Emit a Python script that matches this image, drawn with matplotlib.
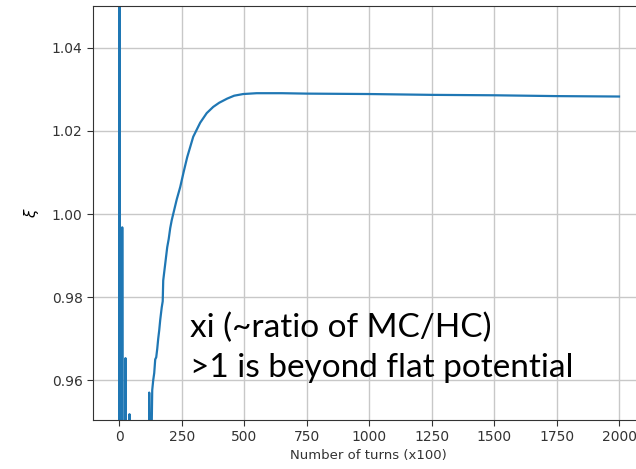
import matplotlib
matplotlib.use("Agg")
import matplotlib.pyplot as plt

plt.rcParams["font.family"] = "DejaVu Sans"

# turns (x100) and xi values
turns = [0, 1, 2, 3, 4, 11, 12, 14, 24, 25, 27, 29, 40, 41, 43, 60, 118, 120, 122, 127,
         129, 132, 136, 140, 144, 148, 152, 156, 160, 164, 170, 174, 176, 184, 192,
         198, 204, 210, 216, 230, 244, 258, 272, 296, 324, 350, 376, 400, 432, 460,
         496, 550, 650, 750, 1000, 1250, 1500, 1750, 2000]
xi = [1.30, 0.70, 1.20, 0.80, 0.90, 0.90, 0.9968, 0.90, 0.90, 0.9653, 0.90, 0.90,
      0.90, 0.9518, 0.90, 0.90, 0.90, 0.957, 0.94, 0.90, 0.945, 0.9576, 0.9600,
      0.9617, 0.9650, 0.9655, 0.9675, 0.9700, 0.9720, 0.9745, 0.9775, 0.9790,
      0.9840, 0.9880, 0.9920, 0.9940, 0.9966, 0.9985, 1.0000, 1.0035, 1.0065,
      1.0102, 1.0137, 1.0186, 1.0220, 1.0243, 1.0258, 1.0268, 1.0278, 1.0285,
      1.0289, 1.0291, 1.0291, 1.0290, 1.0289, 1.0287, 1.0286, 1.0284, 1.0283]

note1 = "xi (~ratio of MC/HC)"
note2 = ">1 is beyond flat potential"

fig = plt.figure(figsize=(6.36, 4.69), dpi=100)
ax = fig.add_axes([93 / 636, 1 - 420 / 469, (644 - 93) / 636, 414 / 469])
ax.plot(turns, xi, color="#1f77b4", lw=1.6)
ax.set_xlim(-105, 2100)
ax.set_ylim(0.9504, 1.0501)
ax.set_xticks([0, 250, 500, 750, 1000, 1250, 1500, 1750, 2000])
ax.set_yticks([0.96, 0.98, 1.00, 1.02, 1.04])
ax.grid(True, color="#c8c8c8", lw=1)
ax.tick_params(labelsize=10, colors="#333333", length=4)
ax.set_xlabel("Number of turns (x100)", fontsize=9.5, color="#333333", labelpad=3)
ax.set_ylabel(r"$\xi$", fontsize=11, labelpad=8)
for s in ax.spines.values():
    s.set_color("#333333")

fig.text(190 / 636, 1 - 337 / 469, note1, family="Lato", fontsize=24, va="baseline")
fig.text(190 / 636, 1 - 377 / 469, note2, family="Lato", fontsize=24, va="baseline")

fig.savefig("out.png", dpi=100)
